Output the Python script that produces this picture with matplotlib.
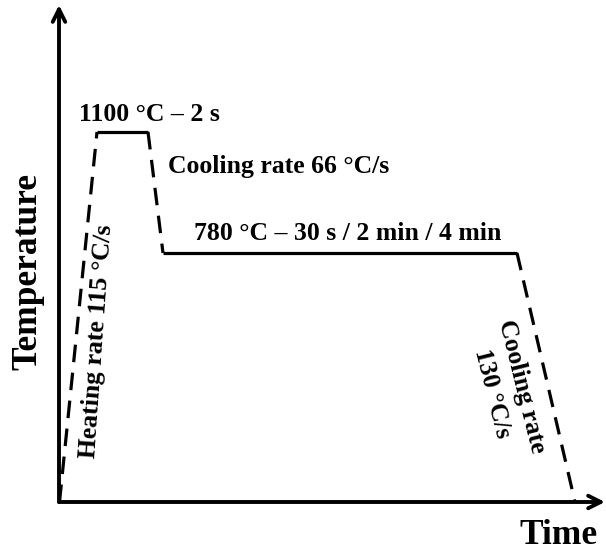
import matplotlib
matplotlib.use("Agg")
import matplotlib.pyplot as plt

# schematic profile (arbitrary units: time, temperature)
time_pts = [0.5, 38, 89, 104, 458, 516]
temp_pts = [0, 370, 370, 249, 249, 0]
seg_styles = ["--", "-", "--", "-", "--"]

label_hold_hi = "1100 °C – 2 s"
label_cool1 = "Cooling rate 66 °C/s"
label_hold_lo = "780 °C – 30 s / 2 min / 4 min"
label_heat = "Heating rate 115 °C/s"
label_cool2 = "Cooling rate\n130 °C/s"
xlabel = "Time"
ylabel = "Temperature"

W, H = 606, 552
fig = plt.figure(figsize=(W / 100, H / 100), dpi=100)
x0, y0 = 59, 502          # origin in pixels
x1, y1 = 605, 5           # arrow tips
ax = fig.add_axes([x0 / W, (H - y0) / H, (x1 - x0) / W, (y0 - y1) / H])
ax.set_xlim(0, x1 - x0)
ax.set_ylim(0, y0 - y1)
ax.axis("off")

font = dict(family=["Liberation Serif", "DejaVu Serif"], fontweight="bold")

for i, st in enumerate(seg_styles):
    kw = dict(color="black", lw=2.3, solid_capstyle="butt")
    line, = ax.plot(time_pts[i:i + 2], temp_pts[i:i + 2], linestyle=st, **kw)
    if st == "--":
        line.set_dashes((5.5, 3.3))

# axes arrows
arrow = dict(arrowstyle="->,head_length=0.9,head_width=0.45", lw=2.8, color="black",
             shrinkA=0, shrinkB=0)
ax.annotate("", xy=(0, 1), xytext=(0, 0), xycoords="axes fraction", textcoords="axes fraction",
            arrowprops=arrow, annotation_clip=False)
ax.annotate("", xy=(1, 0), xytext=(0, 0), xycoords="axes fraction", textcoords="axes fraction",
            arrowprops=arrow, annotation_clip=False)

fs = 18.5
ax.text(20, 381, label_hold_hi, ha="left", va="baseline", fontsize=fs, **font)
ax.text(109, 329, label_cool1, ha="left", va="baseline", fontsize=fs, **font)
ax.text(289, 262, label_hold_lo, ha="center", va="baseline", fontsize=fs, **font)
ax.text(38, 161, label_heat, ha="center", va="center", rotation=86,
        rotation_mode="anchor", fontsize=fs, **font)
ax.text(448, 112, label_cool2, ha="center", va="center", rotation=-76,
        rotation_mode="anchor", multialignment="center", linespacing=1.4, fontsize=fs, **font)

fig.text(28 / W, 1 - 272 / H, ylabel, ha="center", va="center", rotation=90, fontsize=25.5, **font)
fig.text(558 / W, 1 - 535 / H, xlabel, ha="center", va="center", fontsize=25.5, **font)

fig.savefig("out.png", dpi=100, facecolor="white")
